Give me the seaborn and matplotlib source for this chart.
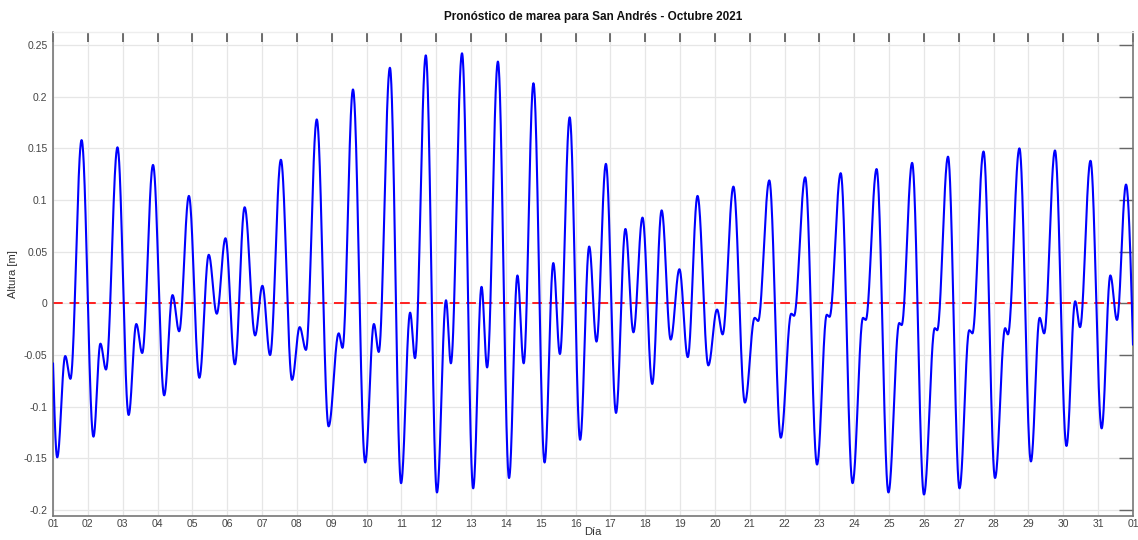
import numpy as np
import pandas as pd
import matplotlib
matplotlib.use("Agg")
import matplotlib.pyplot as plt
import seaborn as sns

# ---- data (day of month, height in m) ----
start_day = 1.0
start_height = -0.058
end_day = 32.0
end_height = -0.040

extrema_days = [
    1.12, 1.35, 1.50, 1.82, 2.16, 2.36, 2.52, 2.85, 3.17, 3.39, 3.56, 3.87,
    4.19, 4.43, 4.62, 4.90, 5.20, 5.47, 5.70, 5.95, 6.22, 6.50, 6.80, 7.01,
    7.23, 7.54, 7.86, 8.08, 8.26, 8.57, 8.91, 9.20, 9.31, 9.61, 9.96,
    10.21, 10.35, 10.67, 10.99, 11.25, 11.39, 11.70, 12.02, 12.28, 12.42,
    12.74, 13.06, 13.30, 13.46, 13.77, 14.09, 14.33, 14.51, 14.79, 15.11,
    15.36, 15.55, 15.83, 16.13, 16.39, 16.60, 16.87, 17.16, 17.43, 17.66,
    17.92, 18.20, 18.47, 18.73, 18.98, 19.22, 19.50, 19.81, 20.06, 20.22,
    20.53, 20.86, 21.14, 21.24, 21.56, 21.89, 22.19, 22.27, 22.59, 22.93,
    23.21, 23.29, 23.61, 23.95, 24.25, 24.33, 24.64, 24.98, 25.29, 25.36,
    25.66, 26.00, 26.31, 26.38, 26.69, 27.02, 27.30, 27.39, 27.71, 28.04,
    28.33, 28.41, 28.74, 29.07, 29.32, 29.45, 29.76, 30.09, 30.34, 30.48,
    30.78, 31.10, 31.35, 31.54, 31.80,
]
extrema_heights = [
    -0.149, -0.051, -0.073, 0.158, -0.129, -0.039, -0.064, 0.151, -0.108, -0.020, -0.048, 0.134,
    -0.089, 0.008, -0.027, 0.104, -0.072, 0.047, -0.010, 0.063, -0.059, 0.093, -0.031, 0.017,
    -0.050, 0.139, -0.074, -0.023, -0.045, 0.178, -0.119, -0.029, -0.043, 0.207, -0.154,
    -0.020, -0.047, 0.228, -0.174, -0.009, -0.053, 0.240, -0.183, 0.003, -0.058,
    0.242, -0.179, 0.016, -0.062, 0.234, -0.169, 0.027, -0.058, 0.213, -0.154,
    0.039, -0.049, 0.180, -0.132, 0.055, -0.037, 0.135, -0.106, 0.072, -0.028,
    0.083, -0.078, 0.090, -0.035, 0.033, -0.052, 0.104, -0.060, -0.006, -0.030,
    0.113, -0.096, -0.014, -0.017, 0.119, -0.130, -0.010, -0.012, 0.122, -0.156,
    -0.011, -0.013, 0.126, -0.174, -0.014, -0.016, 0.130, -0.183, -0.019, -0.021,
    0.136, -0.185, -0.024, -0.026, 0.142, -0.179, -0.026, -0.029, 0.147, -0.169,
    -0.024, -0.030, 0.150, -0.153, -0.014, -0.029, 0.148, -0.138, 0.002, -0.023,
    0.138, -0.121, 0.027, -0.016, 0.115,
]

x_tick_days = list(range(1, 33))
x_tick_labels = [f"{d:02d}" for d in range(1, 32)] + ["01"]
y_tick_values = [-0.2, -0.15, -0.1, -0.05, 0, 0.05, 0.1, 0.15, 0.2, 0.25]
y_tick_labels = ["-0.2", "-0.15", "-0.1", "-0.05", "0", "0.05", "0.1", "0.15", "0.2", "0.25"]

# ---- build the smooth tide curve through the read extrema ----
xs, ys = [], []
s = np.linspace(0, 1, 20)
xs.append(start_day + (extrema_days[0] - start_day) * s)
ys.append(start_height + (extrema_heights[0] - start_height) * np.sin(np.pi / 2 * s))
for i in range(len(extrema_days) - 1):
    s = np.linspace(0, 1, 40)[1:]
    t0, t1 = extrema_days[i], extrema_days[i + 1]
    h0, h1 = extrema_heights[i], extrema_heights[i + 1]
    xs.append(t0 + (t1 - t0) * s)
    ys.append(h0 + (h1 - h0) * (1 - np.cos(np.pi * s)) / 2)
s = np.linspace(0, 1, 20)[1:]
xs.append(extrema_days[-1] + (end_day - extrema_days[-1]) * s)
ys.append(extrema_heights[-1] + (end_height - extrema_heights[-1]) * (1 - np.cos(np.pi / 2 * s)))
df = pd.DataFrame({"dia": np.concatenate(xs), "altura": np.concatenate(ys)})

# ---- plot ----
sns.set_theme(style="white")
plt.rcParams["font.family"] = ["Liberation Sans", "DejaVu Sans"]

fig = plt.figure(figsize=(11.38, 5.40), dpi=100)
ax = fig.add_axes([0.0466, 0.0444, 0.9490, 0.8963])

sns.lineplot(data=df, x="dia", y="altura", ax=ax, color="#0000ff",
             linewidth=1.5, sort=False, estimator=None, zorder=3)
ax.axhline(0, color="#ff2020", linestyle=(0, (5, 3.5)), linewidth=1.4, zorder=2)

ax.set_xlim(1, 32)
ax.set_ylim(-0.2058, 0.2626)
ax.set_xticks(x_tick_days)
ax.set_xticklabels(x_tick_labels)
ax.set_yticks(y_tick_values)
ax.set_yticklabels(y_tick_labels)

ax.grid(True, color="#e6e6e6", linewidth=0.9)
ax.set_axisbelow(True)

ax.tick_params(axis="both", direction="in", labelsize=7.5, labelcolor="#444444",
               top=True, right=True)
ax.tick_params(axis="x", length=7, width=1.2, color="#555555", pad=2)
ax.tick_params(axis="y", length=10, width=1.0, color="#666666", pad=4)
for t in ax.yaxis.get_major_ticks():
    t.tick2line.set_color("#c4c4c4")
for t in ax.xaxis.get_major_ticks():
    t.tick2line.set_color("#888888")

for side in ["left", "bottom", "right"]:
    ax.spines[side].set_color("#777777")
    ax.spines[side].set_linewidth(1.2)
ax.spines["top"].set_color("#eeeeee")
ax.spines["top"].set_linewidth(1.0)

ax.set_title("Pronóstico de marea para San Andrés - Octubre 2021",
             fontsize=8.5, fontweight="bold", color="#111111", pad=9)
ax.set_xlabel("Día", fontsize=8, color="#333333", labelpad=-1)
ax.set_ylabel("Altura [m]", fontsize=8, color="#333333", labelpad=4)

fig.savefig("out.png", dpi=100)
